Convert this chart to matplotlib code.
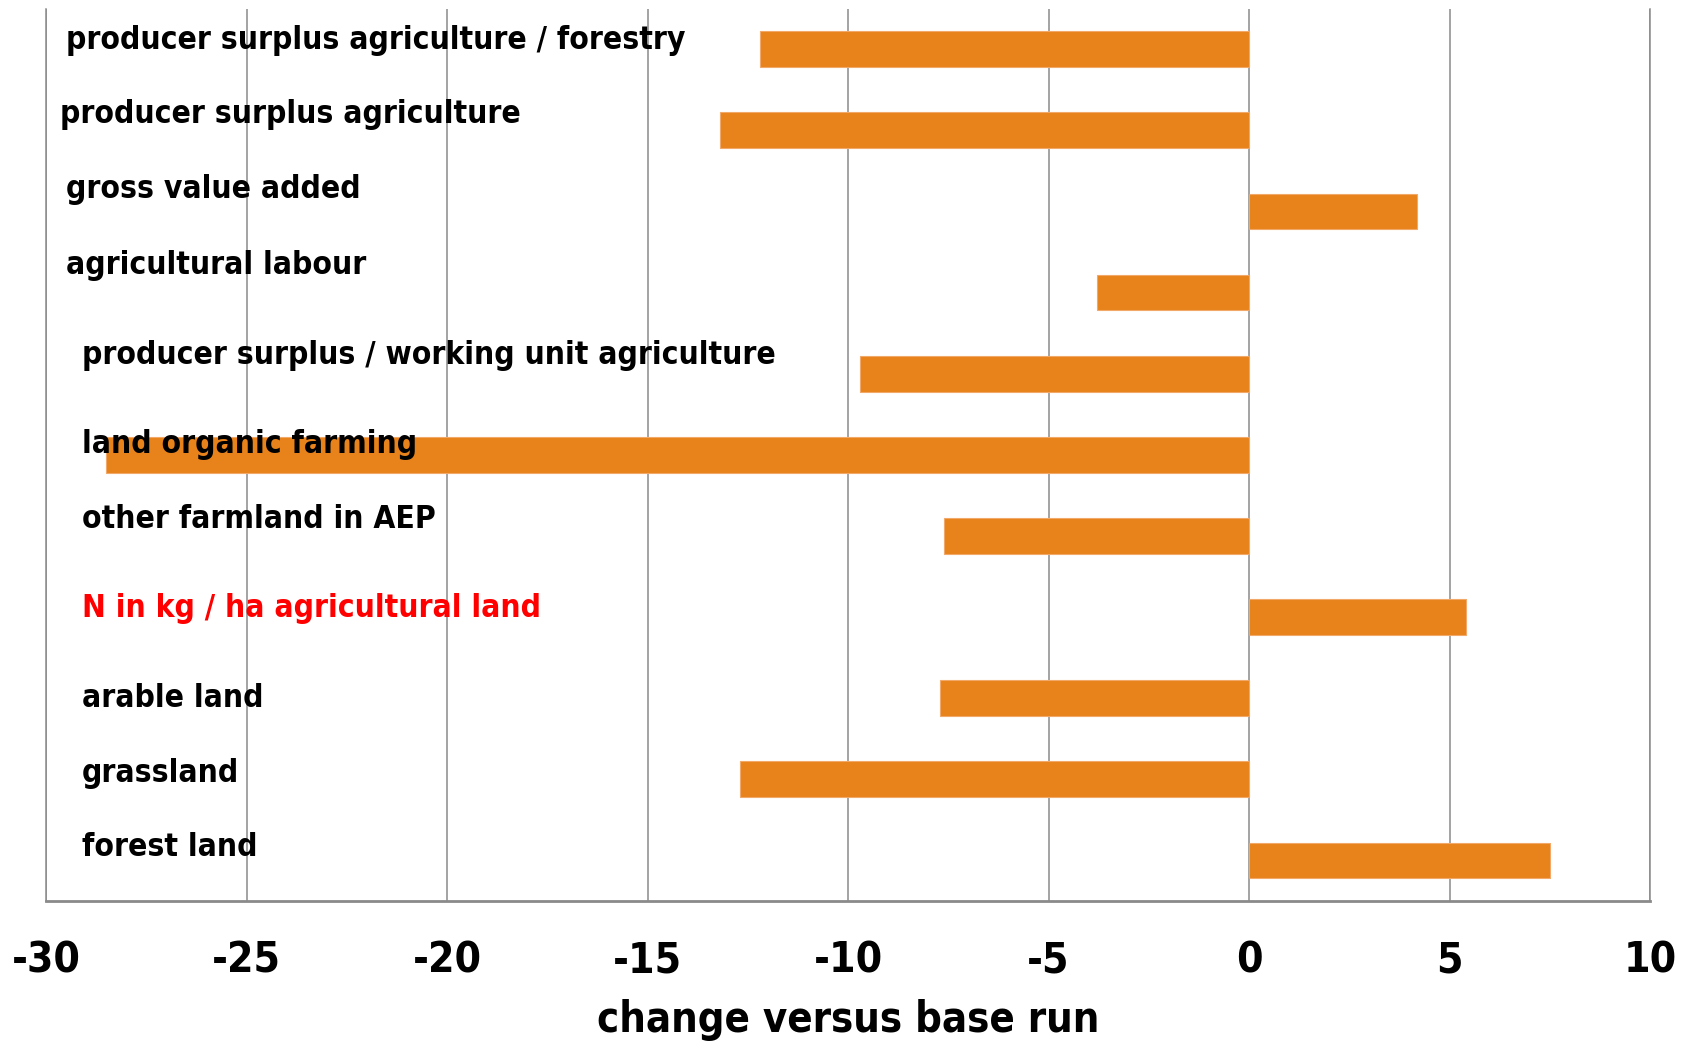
import matplotlib
matplotlib.use('Agg')
from matplotlib import pyplot as plt

categories = [
    'producer surplus agriculture / forestry',
    'producer surplus agriculture',
    'gross value added',
    'agricultural labour',
    'producer surplus / working unit agriculture',
    'land organic farming',
    'other farmland in AEP',
    'N in kg / ha agricultural land',
    'arable land',
    'grassland',
    'forest land',
]
change = [-12.2, -13.2, 4.2, -3.8, -9.7, -28.5, -7.6, 5.4, -7.7, -12.7, 7.5]
label_colors = ['black'] * 7 + ['red'] + ['black'] * 3
xticks = [-30, -25, -20, -15, -10, -5, 0, 5, 10]

# label placement: x in data units, y shift above the bar (in category units)
label_x = [-29.49, -29.65, -29.49, -29.49, -29.11, -29.11, -29.11, -29.11, -29.11, -29.11, -29.11]
label_dy = [0.11, 0.19, 0.27, 0.33, 0.23, 0.13, 0.2, 0.11, 0.0, 0.07, 0.16]

plt.rcParams['font.family'] = ['DejaVu Sans']
plt.rcParams['font.weight'] = 'bold'
plt.rcParams['font.stretch'] = 'condensed'

fig = plt.figure(figsize=(16.92, 10.41), dpi=100)
ax = fig.add_axes([0.0272, 0.1345, 0.9480, 0.8572])

pos = list(range(len(categories)))
ax.barh(pos, change, height=0.44, color='#E8821A', edgecolor='#F2A868',
        linewidth=0.8, zorder=3)

ax.set_xlim(-30, 10)
ax.set_ylim(len(categories) - 0.5, -0.5)
ax.set_xticks(xticks)
ax.set_xticklabels([str(t) for t in xticks], fontsize=30.5, fontweight='bold')
ax.set_yticks([])
ax.tick_params(axis='x', length=0, pad=28)
ax.grid(axis='x', color='#8a8a8a', linewidth=1.1, zorder=1)

for side in ['left', 'right']:
    ax.spines[side].set_color('#8a8a8a')
    ax.spines[side].set_linewidth(1.1)
ax.spines['bottom'].set_color('#8a8a8a')
ax.spines['bottom'].set_linewidth(2.0)
ax.spines['top'].set_visible(False)

ax.set_xlabel('change versus base run', fontsize=30, fontweight='bold', labelpad=12)

for i, (name, col) in enumerate(zip(categories, label_colors)):
    ax.text(label_x[i], i - label_dy[i], name, color=col, fontsize=22.8,
            fontweight='bold', ha='left', va='center', zorder=4)

fig.savefig('out.png', dpi=100)
